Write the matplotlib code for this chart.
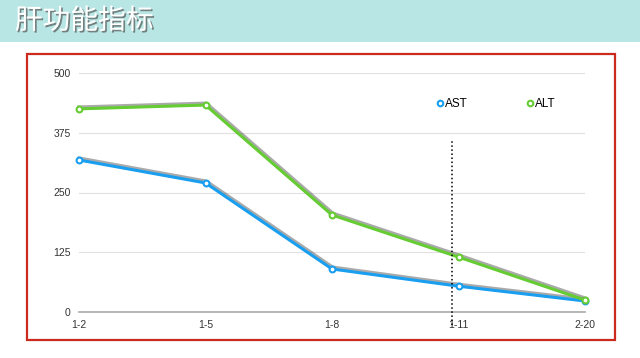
import matplotlib.pyplot as plt
import matplotlib.patheffects as pe
from matplotlib.lines import Line2D
from matplotlib.patches import Rectangle

plt.rcParams['font.family'] = ['Liberation Sans', 'DejaVu Sans']

dates = ['1-2', '1-5', '1-8', '1-11', '2-20']
ast = [318, 270, 90, 54, 23]
alt = [425, 433, 203, 115, 25]
yticks = [0, 125, 250, 375, 500]
title = '肝功能指标'

fig = plt.figure(figsize=(6.4, 3.58), dpi=100)

# header band
fig.patches.append(Rectangle((0, 0.883), 1, 0.117, transform=fig.transFigure,
                             facecolor='#b8e6e4', edgecolor='none', zorder=0))
fig.text(0.023, 0.942, title, fontsize=20, color='white', va='center',
         family='Noto Sans CJK SC',
         path_effects=[pe.withSimplePatchShadow(offset=(1.2, -1.2), shadow_rgbFace='#555555', alpha=0.7)])

# red frame
fig.patches.append(Rectangle((27 / 640, 1 - 340 / 358), 588 / 640, 286 / 358,
                             transform=fig.transFigure, facecolor='none',
                             edgecolor='#cc2a1f', linewidth=1.6, zorder=1))

ax = fig.add_axes([79 / 640, 1 - 312 / 358, 506 / 640, 239 / 358])
x = list(range(len(dates)))

shadow = [pe.SimpleLineShadow(offset=(0.4, 0.9), shadow_color='#444444', alpha=0.45, linewidth=3.2), pe.Normal()]
for vals, col in [(ast, '#1a9ff0'), (alt, '#66cc33')]:
    ax.plot(x, vals, color=col, lw=2.2, path_effects=shadow, zorder=3, clip_on=False)
    ax.plot(x, vals, ls='none', marker='o', ms=4.2, mfc='white', mec=col,
            mew=1.5, zorder=4, clip_on=False)

ax.plot([2.95, 2.95], [-28, 360], color='black', ls=':', lw=1.1, clip_on=False, zorder=5)

ax.set_xlim(0, 4)
ax.set_ylim(0, 500)
ax.set_xticks(x)
ax.set_xticklabels(dates)
ax.set_yticks(yticks)
ax.tick_params(length=0, labelsize=7.5, colors='#333333', pad=6)
ax.grid(axis='y', color='#e0e0e0', lw=0.8)
ax.set_axisbelow(True)
for s in ['top', 'right', 'left']:
    ax.spines[s].set_visible(False)
ax.spines['bottom'].set_color('#aaaaaa')
ax.spines['bottom'].set_linewidth(1.2)

handles = [Line2D([], [], ls='none', marker='o', ms=4, mfc='white', mec='#1a9ff0', mew=1.5),
           Line2D([], [], ls='none', marker='o', ms=4, mfc='white', mec='#66cc33', mew=1.5)]
ax.legend(handles, ['AST', 'ALT'], loc='center left', bbox_to_anchor=(0.685, 0.87),
          ncol=2, frameon=False, fontsize=8.5, handlelength=0.6, handletextpad=0.1,
          columnspacing=5.0)

fig.savefig('out.png', dpi=100)
